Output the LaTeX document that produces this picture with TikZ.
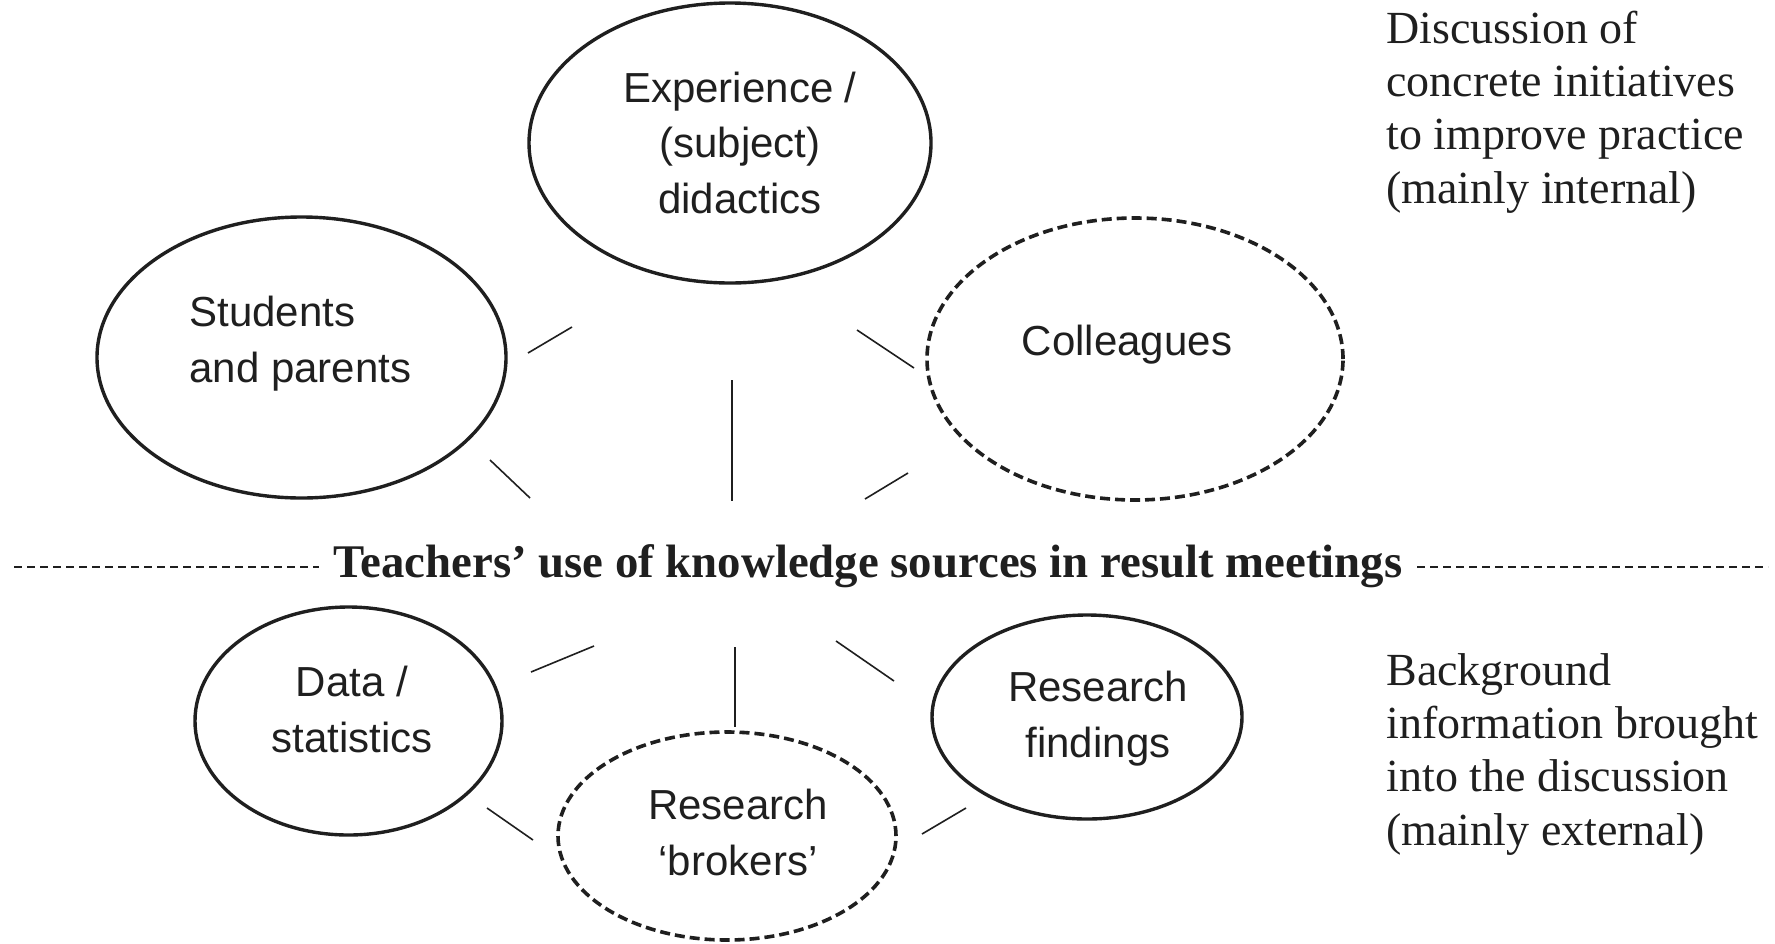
\documentclass[tikz,border=0pt]{standalone}
\usepackage{fontspec}
\setmainfont{Liberation Serif}
\newfontfamily\arialfont{Liberation Sans}
\usetikzlibrary{shapes.geometric}
\definecolor{ink}{rgb}{0.12,0.12,0.12}
\tikzset{
  src/.style={ellipse, draw=ink, line width=1.7pt, inner sep=0pt},
  srcdash/.style={src, line width=1.8pt, dash pattern=on 5pt off 2.5pt},
  lbl/.style={font=\arialfont\fontsize{21}{27.75}\selectfont, inner sep=0pt, align=center, anchor=base, text=ink},
  lblleft/.style={lbl, align=left, anchor=base west},
  side/.style={font=\fontsize{23}{26.65}\selectfont, inner sep=0pt, align=left, anchor=base west, text=ink},
  titletext/.style={font=\bfseries\fontsize{23.4}{26}\selectfont, inner sep=0pt, anchor=base, text=ink},
  link/.style={draw=ink, line width=0.8pt},
  rule/.style={draw=ink, line width=1.3pt, dash pattern=on 4pt off 2.5pt},
}
\begin{document}
\begin{tikzpicture}[x=0.5pt, y=-0.5pt]
\useasboundingbox (0,0) rectangle (1775,943);

% ellipses
\node[src, minimum width=201pt, minimum height=140pt] (exp) at (730,143) {};
\node[src, minimum width=204.5pt, minimum height=140.5pt] (stu) at (301.5,357.5) {};
\node[srcdash, minimum width=208pt, minimum height=141pt] (col) at (1135,359) {};
\node[src, minimum width=153.5pt, minimum height=114pt] (dat) at (348.5,721) {};
\node[srcdash, minimum width=169pt, minimum height=104pt] (bro) at (727,836) {};
\node[src, minimum width=155pt, minimum height=102pt] (fin) at (1087,717) {};

% labels (anchored at the baseline of the last line)
\node[lbl] (expL) at (740,213) {Experience /\\(subject)\\didactics};
\node[lblleft] (stuL) at (189,382) {Students\\and parents};
\node[lbl] (colL) at (1127,355) {Colleagues};
\node[lbl] (datL) at (352,752) {Data /\\statistics};
\node[lbl] (broL) at (738,875) {Research\\‘brokers’};
\node[lbl] (finL) at (1098,757) {Research\\findings};

% side texts
\node[side] (internal) at (1386,203) {Discussion of\\concrete initiatives\\to improve practice\\(mainly internal)};
\node[side] (external) at (1386,845) {Background\\information brought\\into the discussion\\(mainly external)};

% title with dashed rule
\node[titletext] (title) at (868,577) {Teachers’ use of knowledge sources in result meetings};
\coordinate (rl1) at (14,567);
\coordinate (rl2) at (319,567);
\coordinate (rr1) at (1417,567);
\coordinate (rr2) at (1768,567);
\draw[rule] (rl1) -- (rl2);
\draw[rule] (rr1) -- (rr2);

% connector fragments
\coordinate (a1) at (528,353); \coordinate (a2) at (572,327);
\coordinate (b1) at (490,460); \coordinate (b2) at (530,498);
\coordinate (c1) at (732,380); \coordinate (c2) at (732,501);
\coordinate (d1) at (857,330); \coordinate (d2) at (914,368);
\coordinate (e1) at (865,499); \coordinate (e2) at (908,473);
\coordinate (f1) at (531,672); \coordinate (f2) at (594,646);
\coordinate (g1) at (735,647); \coordinate (g2) at (735,727);
\coordinate (h1) at (836,641); \coordinate (h2) at (894,681);
\coordinate (i1) at (487,808); \coordinate (i2) at (533,840);
\coordinate (j1) at (922,834); \coordinate (j2) at (966,808);
\draw[link] (a1) -- (a2);
\draw[link] (b1) -- (b2);
\draw[link] (c1) -- (c2);
\draw[link] (d1) -- (d2);
\draw[link] (e1) -- (e2);
\draw[link] (f1) -- (f2);
\draw[link] (g1) -- (g2);
\draw[link] (h1) -- (h2);
\draw[link] (i1) -- (i2);
\draw[link] (j1) -- (j2);
\end{tikzpicture}
\end{document}
